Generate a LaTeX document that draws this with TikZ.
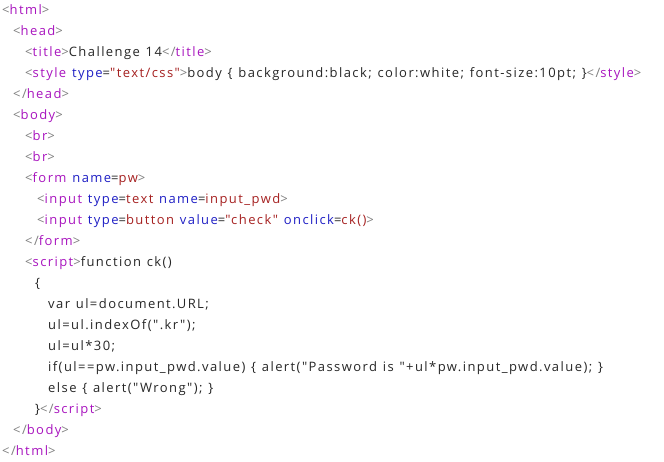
\documentclass[tikz,border=0pt]{standalone}
\usepackage{fontspec}
\usepackage{tikz}
\newfontfamily\codefont[LetterSpace=11,WordSpace=1.2]{Open Sans}

\definecolor{brk}{HTML}{808080}
\definecolor{tagc}{HTML}{A814BE}
\definecolor{attc}{HTML}{1E1EC4}
\definecolor{valc}{HTML}{A52020}
\definecolor{codec}{HTML}{262626}

\newcommand{\tagopen}[1]{\textcolor{brk}{<}\textcolor{tagc}{#1}\textcolor{brk}{>}}
\newcommand{\tagend}[1]{\textcolor{brk}{</}\textcolor{tagc}{#1}\textcolor{brk}{>}}
\newcommand{\tagstart}[1]{\textcolor{brk}{<}\textcolor{tagc}{#1}}
\newcommand{\tagshut}{\textcolor{brk}{>}}
\newcommand{\attr}[2]{\textcolor{attc}{#1}=\textcolor{valc}{#2}}

\begin{document}
\begin{tikzpicture}[
    x=1pt, y=-1pt,
    code/.style={anchor=base west, inner sep=0pt, text=codec, font=\codefont\fontsize{13}{15}\selectfont}
]
    \useasboundingbox (0,0) rectangle (664,462);

    % Document head
    \node[code] (html) at (2,14.5) {\tagopen{html}};
    \node[code] (head) at (13,35.5) {\tagopen{head}};
    \node[code] (title) at (25,56.5) {\tagopen{title}Challenge 14\tagend{title}};
    \node[code] (style) at (25,77.5) {\tagstart{style} \attr{type}{"text/css"}\tagshut body \{ background:black; color:white; font-size:10pt; \}\tagend{style}};
    \node[code] (headend) at (13,98.5) {\tagend{head}};

    % Body and form
    \node[code] (body) at (13,119.5) {\tagopen{body}};
    \node[code] (brA) at (25,140.5) {\tagopen{br}};
    \node[code] (brB) at (25,161.5) {\tagopen{br}};
    \node[code] (form) at (25,182.5) {\tagstart{form} \attr{name}{pw}\tagshut};
    \node[code] (inpA) at (37,203.5) {\tagstart{input} \attr{type}{text} \attr{name}{input\_pwd}\tagshut};
    \node[code] (inpB) at (37,224.5) {\tagstart{input} \attr{type}{button} \attr{value}{"check"} \attr{onclick}{ck()}\tagshut};
    \node[code] (formend) at (25,245.5) {\tagend{form}};

    % Script
    \node[code] (script) at (25,266.5) {\tagopen{script}function ck()};
    \node[code] (brace) at (35,287.5) {\{};
    \node[code] (varul) at (48,308.5) {var ul=document.URL;};
    \node[code] (indexof) at (48,329.5) {ul=ul.indexOf(".kr");};
    \node[code] (times) at (48,350.5) {ul=ul*30;};
    \node[code] (ifline) at (48,371.5) {if(ul==pw.input\_pwd.value) \{ alert("Password is "+ul*pw.input\_pwd.value); \}};
    \node[code] (elseline) at (48,392.5) {else \{ alert("Wrong"); \}};
    \node[code] (scriptend) at (35,413.5) {\}\tagend{script}};
    \node[code] (bodyend) at (13,434.5) {\tagend{body}};
    \node[code] (htmlend) at (2,455.5) {\tagend{html}};
\end{tikzpicture}
\end{document}
